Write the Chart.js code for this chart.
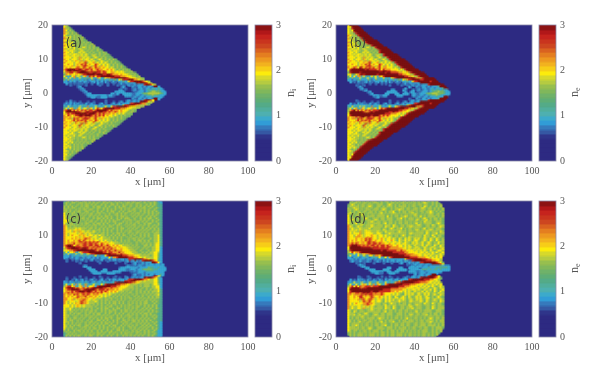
<!DOCTYPE html>
<html>
<head>
<meta charset="utf-8">
<script src="https://cdn.jsdelivr.net/npm/chart.js@4/dist/chart.umd.min.js"></script>
<style>
  html, body { margin: 0; background: #fff; }
  #page { position: relative; width: 600px; height: 385px; overflow: hidden; }
  canvas { position: absolute; }
</style>
</head>
<body>
<div id="page"></div>
<script>
// density, one string per 0.5um row (y=20 down to y=-20), one digit per 1um column from x=0
// digits index densityLevels, blocks of 10 columns are only there for reading, missing columns are 0
const densityLevels = [0.2, 0.72, 0.92, 1.2, 1.5, 1.72, 1.95, 2.25, 2.7, 3];

const rowsA = [
  "00000065", "000000654", "0000007554", "0000007645 4", "0000007554 54", "0000007654 545",
  "0000006545 45454", "0000007656 454545", "0000007565 4545454", "0000006655 45454544",
  "0000007565 6454545454", "0000006656 5445454544 5", "0000007665 6545454545 45",
  "0000006656 5645456545 4544", "0000007565 5645654545 45454", "0000006656 6554565454 544544",
  "0000007665 6545656545 45445454", "0000006656 5665564654 545454454", "0000007665 6656565654 5654545444",
  "0000006666 5665756565 4565454544 4", "0000007665 6665765665 6545654545 454",
  "0000006766 5676575766 5654565454 5444", "0000007666 6566767856 6756565654 54544",
  "0000006676 6567687867 6687656565 454544", "0000007666 7567678876 5786576565 4545454",
  "0000006767 6678768768 7687767665 65454544",
  "0000007899 9988987887 8678776676 7654545454",
  "0000006899 8999899877 8778878766 7656565454 5",
  "0000005778 8678999998 8998878866 7766666545 454",
  "0000004767 6676678899 9989998899 8777676665 5454",
  "0000006323 6736526728 7868899999 9988877766 65545",
  "0000003626 2732623243 6227623677 8899999987 6665554",
  "0000004252 3202320312 0312320223 2342658889 9977655",
  "0000002212 0201202210 2202120210 1210223226 8899998765",
  "0000000201 0101110100 1002010010 0100121021 2229899986 5",
  "0000000001 0001000100 0000100010 0001001002 1121222899 865",
  "0000000000 0001200000 0000000000 0000012000 0210221212 21992",
  "0000000000 0000120000 0000000000 0000000100 0110220122 122232",
  "0000000000 0000012000 0000000000 0000220000 0120122123 2332322",
  "0000000000 0000001200 0000000000 0022222000 0011222123 45544322",
  "0000000000 0000000122 0000000000 2212002222 2112223445 55555432",
  "0000000000 0000000022 2222222212 2100000222 2102212334 4544322",
  "0000000000 0000000000 2201122200 0000000000 0120122122 232222",
  "0000000000 0000000000 0000000000 0000000000 0210221212 21992",
  "0000000001 0000000000 0000000100 0000000012 0121212899 86",
  "0000000102 0100100010 0100000100 0100120022 1221299986 5",
  "0000001212 0212110201 2100120100 1201212222 8899987754",
  "0000002122 1221223212 2221212122 2123225889 9987755",
  "0000003262 3232623272 3263223632 6889999987 66655",
  "0000004626 7327626637 6268768999 9988877766 655",
  "0000007899 7868687878 8789999987 8777676665 454",
  "0000006999 9998877898 8998998878 7787676654 5",
  "0000006787 8899999989 9987878777 6765656545 4",
  "0000007687 6788998999 8787878676 6565454544",
  "0000007767 6767887878 7787767665 65454544",
  "0000007677 5878678887 6786576565 4545454",
  "0000007666 7868787867 7687656565 454544",
  "0000006767 6586767856 6856565654 54544",
  "0000007666 5676585766 5654565454 5444",
  "0000006765 6665865665 6545654545 454",
  "0000007666 5665756565 4565454544 4",
  "0000006665 6656565654 5654545444",
  "0000006656 5665564654 545454454",
  "0000006665 6545656545 45445454",
  "0000006656 6554565454 544544",
  "0000006565 5645654545 45454",
  "0000006656 5545456545 4544",
  "0000006665 5545454545 45",
  "0000006656 5445454544 5",
  "0000006565 6454545454",
  "0000006655 45454544",
  "0000006565 4545454",
  "0000006656 454545",
  "0000006545 45454",
  "0000006654 545",
  "0000006554 54",
  "0000006645 4",
  "0000006554",
  "000000654",
  "00000065"
];

const rowsB = [
  "0000006999 9", "0000006699 99", "0000006589 999", "0000006569 9999", "0000006558 99999", "0000006554 899999",
  "0000007655 4899999", "0000006545 54899999", "0000007565 454899999", "0000006655 4545899999 9",
  "0000007565 6454589999 99", "0000006656 5445458999 999", "0000007665 6545454589 9999",
  "0000006656 5645456545 899999", "0000007565 5645654545 4899999", "0000006656 6554565454 54899999",
  "0000007665 6545656545 458999999", "0000006656 5665564654 5454899999 9", "0000007665 6656565654 5654899999 99",
  "0000006666 5665756565 4565458999 999", "0000007665 6665765665 6545654899 99999",
  "0000006766 5676575766 5654565489 999999", "0000007666 6566767856 6756565654 8999999",
  "0000006676 6567687867 6687656565 48999999", "0000007666 7567678876 5786576565 458999999",
  "0000007678 7698687878 6786776665 6548999999",
  "0000006899 9999989888 8786877766 6656589999 99",
  "0000005999 9999999999 9988998877 7665658999 999",
  "0000004899 9989999999 9999989988 8877666589 99999",
  "0000006634 6789899999 9899999999 9988776655 899999",
  "0000003626 2772623263 6276899999 9999988776 5589999",
  "0000004252 3262326232 6232623267 8999999999 8775899999",
  "0000002212 0302220312 0322320223 2342657889 9998899999 9",
  "0000000201 0201120210 2202020210 1210223226 8899999989 99",
  "0000000000 0101000100 1001010000 0100121021 2229999999 999",
  "0000000000 1000100000 0000000100 0001001002 1121222899 99999",
  "0000000000 0120000000 0000000000 0000000200 0210221212 223999",
  "0000000000 0012000000 0000000000 0000020000 0110220122 1222399",
  "0000000000 0000120000 0000000022 0000200002 0120122123 2332322",
  "0000000000 0000001200 0000002222 2000020022 0011222123 44544322",
  "0000000000 0000000120 0000022000 2200222002 2112223445 55444322",
  "0000000000 0000000002 2211220000 0222000002 2102212334 4543222",
  "0000000000 0000000000 1200000000 0000000000 0120122122 2322299",
  "0000000000 0000000000 0000000000 0000000100 0210221212 223999",
  "0000000000 1000000000 0000000100 0000000012 0121222899 99999",
  "0000000000 0100100010 0100000100 0100120022 1229999999 999",
  "0000000201 0212110201 2100120100 1201212222 8899999989 99",
  "0000002212 2322223212 2231212322 2123225789 9998899999 9",
  "0000003262 3262623272 3263223632 6789999999 9775899999",
  "0000004626 7327626637 6268789999 9999988776 5589999",
  "0000005789 7868687878 8899999999 9988776655 899999",
  "0000005999 9999877898 9999999889 8877666589 99999",
  "0000006999 9999999999 9999988877 7665658999 999",
  "0000006899 9999999989 9987878766 6656589999 99",
  "0000007677 8789979878 7787767665 6548999999",
  "0000007677 5878678887 6786576565 458999999",
  "0000007666 7868787867 7687656565 48999999",
  "0000006767 6586767856 6856565654 8999999",
  "0000007666 5676585766 5654565489 999999",
  "0000006765 6665865665 6545654899 99999",
  "0000007666 5665756565 4565458999 999",
  "0000006665 6656565654 5654899999 99",
  "0000006656 5665564654 5454899999 9",
  "0000006665 6545656545 458999999",
  "0000006656 6554565454 54899999",
  "0000006565 5645654545 4899999",
  "0000006656 5545456545 899999",
  "0000006665 5545454589 9999",
  "0000006656 5445458999 999",
  "0000006565 6454589999 99",
  "0000006655 4545899999 9",
  "0000006565 454899999",
  "0000006656 54899999",
  "0000006545 4899999",
  "0000006654 899999",
  "0000006558 99999",
  "0000006569 9999",
  "0000006589 999",
  "0000006699 99",
  "0000006999 9"
];

const rowsC = [
  "0000003454 5455445545 4544545545 4454544545 4554454545 445422",
  "0000004544 5544554545 4545445454 5445454455 4545544544 545432",
  "0000004545 4445454554 5454454544 5545445454 5445454454 545433",
  "0000005454 5454454554 4545544545 4454545544 5445454545 454433",
  "0000005454 5544545454 4545545454 4454554545 4454545544 544543",
  "0000005545 4454545545 5445445454 5454454545 4554454545 445433",
  "0000005545 4545544554 4545454454 5544545445 5454454545 454543",
  "0000006454 5544545454 5445545445 4545454554 4545544545 454453",
  "0000006454 5454454545 5454544545 4455454544 5454545445 454543",
  "0000006545 4545545445 4545454554 5445455454 4545454454 545443",
  "0000006545 5445455454 4545545454 5445454555 4454454545 544543",
  "0000006654 4554545454 5445454545 4545544545 5454454545 454453",
  "0000006654 5454544545 5454454545 4554445454 5445545454 454543",
  "0000006545 5445454554 4545545454 4454554454 5454544545 544453",
  "0000007545 5545454545 4554545445 4545544545 4554454545 445453",
  "0000007645 4554545454 5454454545 5445454454 5454545445 454543",
  "0000007655 5565655545 5454545454 4545455445 4545445454 545453",
  "0000007656 5667655455 4545545454 5445454454 5454454545 445453",
  "0000007666 5765766565 5654545454 5445454545 5445545454 454553",
  "0000007656 6665675656 5545455454 4545545445 4545454545 445553",
  "0000007656 7666767656 6565655454 5454545544 5454454545 445563",
  "0000007666 6676567667 5665465545 4545454454 5445454545 445563",
  "0000007666 7676767877 6565665555 4545454445 4554545444 545563",
  "0000007676 6767868767 6766565655 5454454545 4454554545 445563",
  "0000007676 7767887878 7878766765 6555454545 4445454545 445563",
  "0000007677 7867778878 8787687676 6655545454 5445445454 545663",
  "0000007899 8678778878 8788787787 6767665555 4545444554 545663",
  "0000006899 9988878887 7878878778 7676766655 5454544545 455662",
  "0000005788 9999899987 8787778787 8776676665 5545445454 455662",
  "0000006667 7889999999 9987887878 7787776666 5554454445 455662",
  "0000003626 6732678889 9999998878 8777877666 6555445454 556652",
  "0000004262 3263262367 8899999999 8887787766 6655554545 556642",
  "0000002221 2322323232 2362322689 9999998887 7766655555 456642",
  "0000002201 2122102122 1212122226 2778999998 8877665655 556642",
  "0000000100 1020120101 2010120102 1221222128 8899998776 556632",
  "0000000100 0010000100 0001000010 0000100120 1202128999 987632",
  "0000000000 0000100000 0000100000 0010000100 0120112122 299862",
  "0000000000 0000000000 0000000000 0000000000 0120112121 2212212",
  "0000000000 0000002200 0000000000 0000000022 1101221122 2222222",
  "0000000000 0000000022 0000000000 0000122222 2222122224 33223222",
  "0000000000 0000000002 2200002200 0000222211 2221223444 43332222",
  "0000000000 0000000000 2220022200 0222200000 1121222233 3322222",
  "0000000000 0000000000 0222200022 2200000000 0011222122 2222222",
  "0000000000 0000000000 0000000000 0000000000 0120112121 2212232",
  "0000000000 0000100000 0000100000 0010000100 0121112122 21986",
  "0000000100 0100000100 0100010010 0100100120 1212122989 987632",
  "0000000100 1020120101 2010120102 1221222128 8899998776 556642",
  "0000002102 1021120210 1201202110 1212122888 9997765655 556642",
  "0000002212 2312322321 2232232322 2389999998 8776655555 556642",
  "0000003623 6272623732 3623263899 9998877766 5555454555 456652",
  "0000005788 6732672726 6728999999 8887766665 5545454555 455662",
  "0000006899 9878678687 8999998877 8777666655 5545445454 455662",
  "0000006788 9999878999 9987888787 7767665555 4545454454 545563",
  "0000006777 8788999899 8787787876 7676555454 5445454545 455563",
  "0000007787 8778788788 7878786676 5655454545 5445454545 454553",
  "0000007677 6878678787 6777665656 5454545454 4545445454 545563",
  "0000007676 7668777867 7676565655 4545454545 4454545445 454553",
  "0000007766 6778676776 6765654545 5454454545 5445454545 454553",
  "0000007766 7566778766 5655454554 5445454544 5454545454 545443",
  "0000007656 6656787765 5565454545 4554545445 4545454554 454543",
  "0000007656 5676787765 5545454545 4554545445 4545454554 445443",
  "0000006665 6567656555 4545454454 5454454545 5445454545 454533",
  "0000006665 6567656555 5454454545 5445454545 4545544545 454533",
  "0000006556 5454545454 5445454554 4545544545 4545445454 544543",
  "0000006556 4545454554 5454454545 4554454554 5445454545 454433",
  "0000006545 5454454545 5454454545 5454454554 5454545445 454543",
  "0000006545 4545544545 4545544545 4454545445 4545454554 544433",
  "0000006554 5445454554 4545545454 4545454455 4545445454 545433",
  "0000006554 4554454545 5454454545 5445454545 5445445454 454533",
  "0000006545 4554545445 4545454554 5445545445 4545454545 445433",
  "0000006545 5445454454 5445545454 4545445545 4554545454 544433",
  "0000006554 5445454545 5454454545 4545454554 4554545454 454532",
  "0000006454 5454544545 4545454554 5445445454 5445454545 445432",
  "0000006545 4545544554 5454545445 4554454545 4545445454 544532",
  "0000006545 5444545545 4544545454 5454545445 5454454545 454432",
  "0000006454 5454454545 4554545454 4545545444 5454545454 454532",
  "0000005454 4545545454 5445454454 5445545454 4545454545 445422",
  "0000004545 4544545454 5445454545 5454454545 4545544545 454322",
  "0000003454 5454454545 4545545445 4545454554 5445454545 445422",
  "0000003545 4545544545 5445454454 5445445454 5454545445 454322"
];

const rowsD = [
  "0000000454 5554545455 5445455454 5454554545 5454554545 45",
  "0000000545 5454554545 5545445455 4545545454 5454565445 454",
  "0000004565 4545545554 4555445654 5454554545 5455455445 4545",
  "0000004555 5545545654 4554545554 5455554545 5445465454 4545",
  "0000005456 5545455454 5545554454 5545545544 5545654554 54545",
  "0000005545 6545455545 5545654454 5565545545 5545554554 54545",
  "0000005545 4554554554 5455454556 4454554555 4545545565 45454",
  "0000005645 4564545554 5456454556 5454554556 4544545565 44545",
  "0000006454 5546545455 4555545454 5545455454 6545454555 45545",
  "0000006454 5545545555 4555546454 5545565454 5546454555 54545",
  "0000006555 4554565445 5545545554 4556454555 4554565454 55454",
  "0000006565 4554555545 6545545554 4555454555 4654556454 55454",
  "0000006545 5455445565 4554554554 5455455454 5545465554 45554",
  "0000006545 6455545555 5554564554 5455455454 5645455554 45654",
  "0000007554 5556455565 4555455546 5445545555 4565445546 54555",
  "0000007654 5655455565 5555465546 5545545565 5555445545 54565",
  "0000007565 5565555645 5554554565 4556454554 5554564555 45554",
  "0000007565 6565565555 5554654555 5555454554 5654555565 45554",
  "0000007656 5575566655 5655465555 4565554555 4555546545 55465",
  "0000007656 6675566665 5665455655 5555554565 5555546545 56455",
  "0000007665 6776566676 6566565554 5545654554 5555465546 54554",
  "0000007665 7776567676 6566565654 5545554655 5555465545 64554",
  "0000007666 7667687876 6567656656 5465465654 6564565465 46545",
  "0000007676 7667687876 7667656676 5465565654 6654565465 46545",
  "0000007676 7767768878 7677665656 6565465546 5645645654 54655",
  "0000007787 8767768878 8787766766 5665665546 5655645654 55645",
  "0000007899 9887878788 7878878776 6766565654 6555646554 65465",
  "0000006999 9998888878 8878878877 7766565664 5654565456 54565",
  "0000006999 9999999998 8888888777 7777665655 6565465564 65456",
  "0000005899 9999999999 9998998888 8778776666 5656565465 45665",
  "0000005686 7789999999 9999999998 8888877666 6656656556 56556",
  "0000004236 2637677899 9999999999 9988887777 6666565656 54565",
  "0000003622 2632632663 7768999999 9999988877 7766566565 5656",
  "0000002212 3212232123 2362362789 9999999988 8877776656 5656",
  "0000000221 2120212201 2120212222 2222268899 9999888776 6665",
  "0000000120 1120112100 1210212122 1222122118 9999998887 7665",
  "0000000000 1000100001 0000100010 0012001202 1228899999 98764",
  "0000000000 0120000000 0000000000 0000001000 2012212219 99986",
  "0000000000 0002200000 0000000000 0000000022 0222122122 22232222",
  "0000000000 0000022000 0000002200 0022000222 2200222322 23333332",
  "0000000000 0000000222 0000222000 0222220022 2222333232 33232222",
  "0000000000 0000000022 2222002200 2200000222 2112212222 2222",
  "0000000000 0000000000 2211000222 0000000000 2012221222 22",
  "0000000000 0000000000 0000000000 0000000000 2012212219 9",
  "0000000000 0100001000 0001000100 0000001002 2120212899 986",
  "0000000000 0110000100 0100010010 0100120022 2128999999 8764",
  "0000000201 0202102102 1021021221 2212222889 9999988877 665",
  "0000001212 1221202122 2122122322 2362899999 9988887766 565",
  "0000002236 2326232632 3623262323 7889999999 8887777665 6565",
  "0000003622 6326762637 2763278999 9999888877 7666656556 5656",
  "0000005786 8687788878 8899999999 9988877766 6656565656 54565",
  "0000006899 9987889999 9999999988 8877776666 5665656545 65465",
  "0000006999 9999999999 9999888877 7777665656 6565465564 65456",
  "0000006899 9999999989 9988888877 6766565654 6555646554 65465",
  "0000007877 8878989887 8778766666 5655465656 4565565645 54655",
  "0000007767 7778787887 7778766656 5654465656 4565465645 65465",
  "0000007667 6788676787 6676565654 6545654654 5656456545 45654",
  "0000007667 6688766787 5676565654 6646654654 5656456645 45654",
  "0000007666 6757867876 5665465656 4565654565 4656546545 65465",
  "0000007666 6656877866 5665465655 5565554565 5556546545 55465",
  "0000007656 7666778776 5554554565 5454554554 5555465546 54554",
  "0000007656 6665778766 5554564555 5455554654 5655455545 54554",
  "0000007565 5665656565 4555465546 5445545565 4555445546 54555",
  "0000007565 5665755565 5555465546 5445545556 4555445546 54555",
  "0000006545 5455445565 4554554554 5455455454 5545455554 45554",
  "0000006546 5455545555 5554564554 5455455454 5645455554 45554",
  "0000006555 4554565445 5545545554 4555454555 4554555454 55454",
  "0000006556 4564555445 6545545554 4555454565 4554556454 55454",
  "0000006454 5546545455 4555545454 5545455454 5545454555 45545",
  "0000006454 5545545555 4565545454 5545456454 5545454565 45545",
  "0000006545 4554554554 5455454555 4454554555 4545545555 45455",
  "0000006545 4564545554 5456454556 4454555555 4545545565 45455",
  "0000006455 5545455454 5545554454 5545545544 5545554554 54545",
  "0000006455 6545455454 5545564454 5545545544 5545554555 54545",
  "0000006555 4545545554 4555445554 5454554545 5455455445 45554",
  "0000006555 5545545654 4555545554 5455554545 5445455445 4555",
  "0000006545 5454554545 5545445455 4545545454 5454555445 4545",
  "0000005545 4454554545 5545545455 4545545454 5454555445 454",
  "0000004545 4555454555 4545545455 4555454554 5454554545 45",
  "0000000545 4555454555 4545545455 4555454554 5454554545 4"
];

const xTicks = [0, 20, 40, 60, 80, 100];
const yTicks = [-20, -10, 0, 10, 20];
const barTicks = [0, 1, 2, 3];
const barLevels = [0.05, 0.15, 0.25, 0.35, 0.45, 0.55, 0.65, 0.75, 0.85, 0.95, 1.05, 1.15, 1.25, 1.35, 1.45,
  1.55, 1.65, 1.75, 1.85, 1.95, 2.05, 2.15, 2.25, 2.35, 2.45, 2.55, 2.65, 2.75, 2.85, 2.95];
const panelLabels = ["(a)", "(b)", "(c)", "(d)"];
const barSubscripts = ["i", "e", "i", "e"];
const panelRows = [rowsA, rowsB, rowsC, rowsD];

// colour bar stops
const stopValues = [0, 0.52, 0.7, 0.88, 1.05, 1.3, 1.6, 1.8, 1.95, 2.1, 2.3, 2.55, 2.8, 3];
const stopColors = [
  [45, 42, 130], [45, 42, 130], [56, 105, 175], [48, 166, 222], [78, 176, 176], [86, 170, 125], [136, 186, 84],
  [196, 208, 58], [252, 236, 12], [245, 190, 30], [234, 140, 32], [205, 70, 32], [196, 26, 28], [122, 16, 16]
];

function colorOf(v) {
  let i = 0;
  while (i < stopValues.length - 2 && v > stopValues[i + 1]) i++;
  const t = Math.min(1, Math.max(0, (v - stopValues[i]) / (stopValues[i + 1] - stopValues[i])));
  const c = stopColors[i].map((a, k) => Math.round(a + (stopColors[i + 1][k] - a) * t));
  return `rgb(${c[0]},${c[1]},${c[2]})`;
}

// one soft edged sprite per colour and cell size, chart.js draws it as the point
const sprites = {};
function cellStyle(c) {
  if (!c.raw) return "rect";
  const sx = c.chart.scales.x, sy = c.chart.scales.y;
  const w = Math.ceil(Math.abs(sx.getPixelForValue(c.dataset.cellW) - sx.getPixelForValue(0))) + 2;
  const h = Math.ceil(Math.abs(sy.getPixelForValue(c.dataset.cellH) - sy.getPixelForValue(0))) + 2;
  const color = colorOf(c.raw.v);
  const key = color + w + "x" + h;
  if (!sprites[key]) {
    const s = document.createElement("canvas");
    s.width = w;
    s.height = h;
    const g = s.getContext("2d");
    g.filter = "blur(0.5px)";
    g.fillStyle = color;
    g.fillRect(0.6, 0.6, w - 1.2, h - 1.2);
    sprites[key] = s;
  }
  return sprites[key];
}

const tickFont = { family: "'Liberation Serif', serif", size: 10 };
const inkColor = "#555";

const frame = {
  id: "frame",
  // navy under the cells so the soft sprite edges don't let the white page through
  beforeDatasetsDraw(chart) {
    const a = chart.chartArea, g = chart.ctx;
    g.save();
    g.fillStyle = colorOf(0);
    g.fillRect(a.left, a.top, a.right - a.left, a.bottom - a.top);
    g.restore();
  },
  afterDraw(chart) {
    const a = chart.chartArea, g = chart.ctx;
    g.save();
    g.strokeStyle = "#8b89a8";
    g.lineWidth = 0.8;
    g.strokeRect(a.left, a.top, a.right - a.left, a.bottom - a.top);
    g.restore();
  }
};

const panelText = {
  id: "panelText",
  afterDraw(chart, args, opts) {
    const g = chart.ctx;
    g.save();
    g.textBaseline = "middle";
    if (opts.label) {
      g.font = "11.5px 'DejaVu Sans'";
      g.fillStyle = "#3a3a3a";
      g.fillText(opts.label, chart.scales.x.getPixelForValue(7), chart.scales.y.getPixelForValue(14.4));
    }
    if (opts.sub) {
      g.translate(chart.chartArea.right + 19, (chart.chartArea.top + chart.chartArea.bottom) / 2);
      g.rotate(-Math.PI / 2);
      g.fillStyle = inkColor;
      g.font = "12px 'Liberation Serif'";
      g.fillText("n", -4, 0);
      g.font = "8px 'Liberation Serif'";
      g.fillText(opts.sub, 2, 3);
    }
    g.restore();
  }
};

function addCanvas(left, top, w, h) {
  const c = document.createElement("canvas");
  c.width = w;
  c.height = h;
  c.style.left = left + "px";
  c.style.top = top + "px";
  document.getElementById("page").appendChild(c);
  return c;
}

const axisTicks = {
  font: tickFont,
  color: inkColor,
  autoSkip: false,
  maxRotation: 0,
  padding: 4
};

function heatPanel(i, left, top) {
  const cells = [];
  panelRows[i].forEach((row, r) => {
    const digits = row.replace(/ /g, "");
    for (let k = 0; k < digits.length; k++) {
      if (digits[k] !== "0") cells.push({ x: k + 0.5, y: 19.75 - r * 0.5, v: densityLevels[+digits[k]] });
    }
  });
  new Chart(addCanvas(left, top, 265, 190), {
    type: "scatter",
    data: {
      datasets: [{
        data: cells,
        cellW: 1,
        cellH: 0.5,
        pointStyle: cellStyle,
        pointRadius: 3,
        pointBorderWidth: 0,
        pointHoverRadius: 3
      }]
    },
    options: {
      responsive: false,
      animation: false,
      events: [],
      layout: { padding: { top: 25, right: 17, left: 0, bottom: 0 } },
      plugins: { legend: { display: false }, tooltip: { enabled: false }, panelText: { label: panelLabels[i] } },
      scales: {
        x: {
          type: "linear", min: 0, max: 100,
          afterBuildTicks: s => { s.ticks = xTicks.map(v => ({ value: v })); },
          afterFit: s => { s.height = 29; },
          grid: { display: false, drawTicks: false },
          border: { display: false },
          ticks: axisTicks,
          title: { display: true, text: "x [μm]", color: inkColor, padding: { top: 0, bottom: 1 }, font: { family: tickFont.family, size: 11 } }
        },
        y: {
          type: "linear", min: -20, max: 20,
          afterBuildTicks: s => { s.ticks = yTicks.map(v => ({ value: v })); },
          afterFit: s => { s.width = 52; },
          grid: { display: false, drawTicks: false },
          border: { display: false },
          ticks: axisTicks,
          title: { display: true, text: "y [μm]", color: inkColor, padding: { top: 21, bottom: 0 }, font: { family: tickFont.family, size: 11 } }
        }
      }
    },
    plugins: [frame, panelText]
  });
}

function colorBar(i, left, top) {
  new Chart(addCanvas(left, top, 50, 190), {
    type: "scatter",
    data: {
      datasets: [{
        data: barLevels.map(v => ({ x: 0.5, y: v, v: v })),
        cellW: 1,
        cellH: 0.1,
        pointStyle: cellStyle,
        pointRadius: 3,
        pointBorderWidth: 0,
        pointHoverRadius: 3
      }]
    },
    options: {
      responsive: false,
      animation: false,
      events: [],
      layout: { padding: { top: 25, left: 5, bottom: 29, right: 0 } },
      plugins: { legend: { display: false }, tooltip: { enabled: false }, panelText: { sub: barSubscripts[i] } },
      scales: {
        x: { type: "linear", min: 0, max: 1, display: false },
        y: {
          type: "linear", min: 0, max: 3, position: "right",
          afterBuildTicks: s => { s.ticks = barTicks.map(v => ({ value: v })); },
          afterFit: s => { s.width = 28; },
          grid: { display: false, drawTicks: false },
          border: { display: false },
          ticks: axisTicks
        }
      }
    },
    plugins: [frame, panelText]
  });
}

[[0, 0], [284, 0], [0, 176], [284, 176]].forEach((p, i) => {
  heatPanel(i, p[0], p[1]);
  colorBar(i, p[0] + 250, p[1]);
});
</script>
</body>
</html>
